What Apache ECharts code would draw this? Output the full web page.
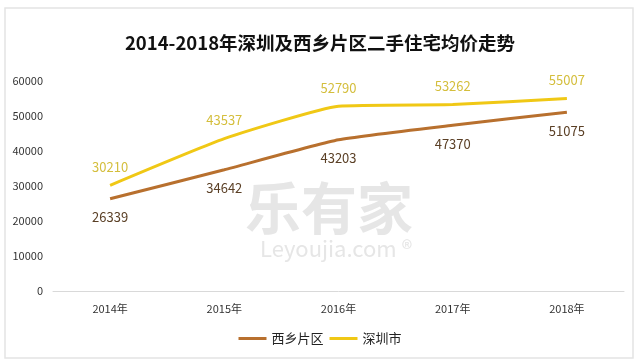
<!DOCTYPE html>
<html><head><meta charset="utf-8">
<script src="https://cdn.jsdelivr.net/npm/echarts@6/dist/echarts.min.js"></script>
<style>html,body{margin:0;padding:0;background:#fff}#c{width:640px;height:364px}</style>
</head><body><div id="c"></div>
<script>
const categories = ['2014年','2015年','2016年','2017年','2018年'];
const xixiang = [26339, 34642, 43203, 47370, 51075];
const shenzhen = [30210, 43537, 52790, 53262, 55007];
const titleText = '2014-2018年深圳及西乡片区二手住宅均价走势';
const font = '"Noto Sans CJK SC", "Noto Sans", sans-serif';
const chart = echarts.init(document.getElementById('c'));
chart.setOption({
  backgroundColor: '#fff',
  animation: false,
  title: {text: titleText, left: 'center', top: 29,
    textStyle: {fontFamily: font, fontSize: 18.5, fontWeight: 'bold', color: '#111'}},
  graphic: [
    {type: 'rect', shape: {x: 5, y: 8, width: 628, height: 350},
      style: {fill: 'none', stroke: '#e4e4e4', lineWidth: 1.5}, z: -1},
    {type: 'text', left: 245, top: 180, z: -1,
      style: {text: '乐有家', font: 'bold 56px ' + font, fill: '#e6e6e6'}},
    {type: 'text', left: 260, top: 238, z: -1,
      style: {text: 'Leyoujia.com ®', font: '22px ' + font, fill: '#e6e6e6'}}
  ],
  legend: {bottom: 14, left: 'center', itemWidth: 28, itemHeight: 3, itemGap: 6,
    icon: 'rect',
    textStyle: {fontFamily: font, fontSize: 13, color: '#222'},
    data: ['西乡片区','深圳市']},
  grid: {left: 53, right: 16, top: 81, bottom: 73},
  xAxis: {type: 'category', data: categories, boundaryGap: true,
    axisLine: {lineStyle: {color: '#d9d9d9'}}, axisTick: {show: false},
    axisLabel: {fontFamily: font, fontSize: 11, color: '#333', margin: 12}},
  yAxis: {type: 'value', min: 0, max: 60000, interval: 10000,
    axisLine: {show: false}, axisTick: {show: false}, splitLine: {show: false},
    axisLabel: {fontFamily: font, fontSize: 11, color: '#333', margin: 10,
      formatter: v => String(v)}},
  series: [
    {name: '西乡片区', type: 'line', data: xixiang, smooth: 0.15,
      symbol: 'circle', symbolSize: 0.1, showSymbol: true,
      lineStyle: {width: 3, color: '#b8702e'}, itemStyle: {color: '#b8702e'},
      label: {show: true, position: 'bottom', distance: 12, fontFamily: font, fontSize: 13, color: '#5a3f25'}},
    {name: '深圳市', type: 'line', data: shenzhen, smooth: 0.15,
      symbol: 'circle', symbolSize: 0.1, showSymbol: true,
      lineStyle: {width: 3, color: '#f0c815'}, itemStyle: {color: '#f0c815'},
      label: {show: true, position: 'top', distance: 12, fontFamily: font, fontSize: 13, color: '#d4be3c'}}
  ]
});
</script></body></html>
